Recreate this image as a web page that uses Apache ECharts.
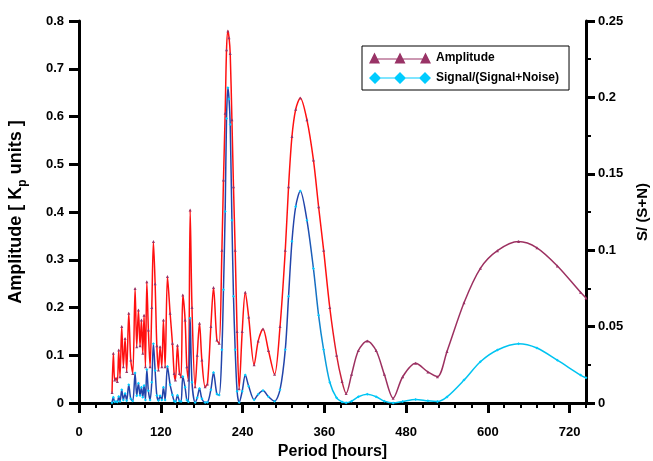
<!DOCTYPE html>
<html><head><meta charset="utf-8">
<script src="https://cdn.jsdelivr.net/npm/echarts@6/dist/echarts.min.js"></script>
<style>html,body{margin:0;padding:0;background:#fff}#c{width:653px;height:461px}</style>
</head><body><div id="c"></div>
<script>
// Period in hours
const periods = [
  48.5, 50.4, 52.4, 54.4, 56.3, 58.3, 60.2, 62.7, 65.1, 67.6,
  70.0, 73.0, 75.9, 78.9, 82.3, 84.7, 87.2, 89.6, 91.6, 93.6,
  95.5, 97.5, 99.5, 101.8, 104.3, 106.8, 109.2, 111.7, 114.2, 116.6,
  119.0, 121.5, 123.9, 126.4, 129.8, 133.7, 137.1, 139.6, 141.5, 144.5,
  147.4, 149.8, 152.3, 155.7, 158.2, 160.6, 163.1, 165.8, 170.4, 173.5,
  176.8, 180.3, 185.1, 188.5, 193.5, 197.4, 202.3, 205.7, 209.7, 212.0,
  214.5, 216.5, 218.5, 220.2, 221.9, 224.4, 226.7, 229.2, 232.0, 235.0,
  239.5, 244.0, 249.0, 257.0, 263.0, 270.0, 278.0, 287.0, 295.0, 302.7,
  307.5, 312.5, 318.0, 324.7, 334.5, 344.0, 351.6, 359.0, 368.0, 378.0,
  386.0, 392.0, 400.0, 410.0, 423.0, 436.0, 448.0, 461.0, 475.0, 494.0,
  512.0, 526.0, 540.0, 565.0, 589.0, 614.0, 645.0, 672.0, 702.0, 736.0,
  744.0
];
// Amplitude [Kp units]
const amplitude = [
  0.022, 0.104, 0.048, 0.052, 0.045, 0.111, 0.055, 0.160, 0.076, 0.135,
  0.066, 0.188, 0.090, 0.062, 0.240, 0.118, 0.195, 0.120, 0.174, 0.104,
  0.184, 0.076, 0.254, 0.153, 0.076, 0.200, 0.338, 0.250, 0.120, 0.069,
  0.118, 0.076, 0.174, 0.076, 0.265, 0.188, 0.125, 0.062, 0.048, 0.121,
  0.062, 0.055, 0.226, 0.174, 0.076, 0.048, 0.404, 0.200, 0.034, 0.100,
  0.167, 0.090, 0.034, 0.040, 0.160, 0.242, 0.132, 0.125, 0.320, 0.467,
  0.607, 0.740, 0.779, 0.765, 0.732, 0.593, 0.453, 0.320, 0.150, 0.030,
  0.150, 0.232, 0.180, 0.080, 0.130, 0.155, 0.110, 0.060, 0.160, 0.320,
  0.453, 0.558, 0.615, 0.639, 0.593, 0.509, 0.411, 0.320, 0.200, 0.100,
  0.045, 0.020, 0.060, 0.110, 0.130, 0.110, 0.060, 0.010, 0.055, 0.083,
  0.065, 0.055, 0.108, 0.210, 0.282, 0.319, 0.338, 0.325, 0.287, 0.232,
  0.220
];
// Signal/(Signal+Noise)
const snr = [
  0.0002, 0.0037, 0.0008, 0.0009, 0.0007, 0.0042, 0.0010, 0.0087, 0.0020, 0.0062,
  0.0015, 0.0120, 0.0028, 0.0013, 0.0196, 0.0047, 0.0129, 0.0049, 0.0103, 0.0037,
  0.0115, 0.0020, 0.0219, 0.0080, 0.0020, 0.0136, 0.0388, 0.0213, 0.0049, 0.0016,
  0.0047, 0.0020, 0.0103, 0.0020, 0.0239, 0.0120, 0.0053, 0.0013, 0.0008, 0.0050,
  0.0013, 0.0010, 0.0174, 0.0103, 0.0020, 0.0008, 0.0555, 0.0136, 0.0004, 0.0034,
  0.0095, 0.0028, 0.0004, 0.0005, 0.0087, 0.0199, 0.0059, 0.0053, 0.0348, 0.0741,
  0.1253, 0.1862, 0.2063, 0.1990, 0.1822, 0.1196, 0.0698, 0.0348, 0.0077, 0.0003,
  0.0077, 0.0183, 0.0110, 0.0022, 0.0057, 0.0082, 0.0041, 0.0012, 0.0087, 0.0348,
  0.0698, 0.1059, 0.1286, 0.1388, 0.1196, 0.0881, 0.0574, 0.0348, 0.0136, 0.0034,
  0.0007, 0.0001, 0.0012, 0.0041, 0.0057, 0.0041, 0.0012, 0.0000, 0.0010, 0.0023,
  0.0014, 0.0010, 0.0040, 0.0150, 0.0270, 0.0347, 0.0388, 0.0360, 0.0280, 0.0183,
  0.0165
];
const seriesNames = ['Amplitude', 'Signal/(Signal+Noise)'];
const xRange = [0, 744];
const leftRange = [0, 0.8];
const rightRange = [0, 0.25];

const FONT = 'Arial, "Liberation Sans", sans-serif';
const chart = echarts.init(document.getElementById('c'), null, {renderer: 'canvas'});

const ampData = periods.map((p, i) => [p, amplitude[i]]);
const snrData = periods.map((p, i) => [p, snr[i]]);

const axisLineStyle = {color: '#000', width: 3};
const tickLabel = {color: '#000', fontWeight: 'bold', fontSize: 13, fontFamily: FONT};

chart.setOption({
  animation: false,
  backgroundColor: '#fff',
  grid: {left: 79, right: 67, top: 21, bottom: 58, containLabel: false, outerBoundsMode: 'none'},
  legend: {
    orient: 'vertical', left: 362, top: 46,
    padding: [6, 10, 6, 7], itemGap: 8, itemWidth: 62, itemHeight: 12,
    borderColor: '#000', borderWidth: 1, backgroundColor: '#fff',
    textStyle: {color: '#000', fontWeight: 'bold', fontSize: 12, fontFamily: FONT},
    data: [
      {name: seriesNames[0], icon: 'path://M0,11.5L5.5,0.5L11,11.5Z M25.5,11.5L31,0.5L36.5,11.5Z M51,11.5L56.5,0.5L62,11.5Z M5,6.4H57V7.6H5Z',
       itemStyle: {color: '#993366', borderWidth: 0}},
      {name: seriesNames[1], icon: 'path://M0,6L6,0L12,6L6,12Z M25,6L31,0L37,6L31,12Z M50,6L56,0L62,6L56,12Z M6,5.4H56V6.6H6Z',
       itemStyle: {color: '#00ccff', borderWidth: 0}}
    ]
  },
  xAxis: [{
    type: 'value', position: 'bottom', min: xRange[0], max: xRange[1], interval: 120,
    name: 'Period [hours]', nameLocation: 'middle', nameGap: 41,
    nameTextStyle: {color: '#000', fontWeight: 'bold', fontSize: 16, fontFamily: FONT},
    axisLine: {show: true, onZero: false, lineStyle: axisLineStyle},
    axisTick: {show: true, inside: false, length: 10, lineStyle: {color: '#000', width: 3}},
    axisLabel: Object.assign({margin: 23, showMaxLabel: false}, tickLabel),
    splitLine: {show: false}
  }, {
    type: 'value', position: 'bottom', min: xRange[0], max: xRange[1], interval: 24,
    axisLine: {show: false, onZero: false},
    axisTick: {show: true, inside: false, length: 5, lineStyle: {color: '#000', width: 2}},
    axisLabel: {show: false}, splitLine: {show: false}
  }],
  yAxis: [{
    type: 'value', position: 'left', min: leftRange[0], max: leftRange[1], interval: 0.1,
    name: '{a|Amplitude [ K}{s|p}{a| units ]}', nameLocation: 'middle', nameGap: 50,
    nameTextStyle: {
      color: '#000', fontFamily: FONT,
      rich: {
        a: {fontSize: 18, fontWeight: 'bold', fontFamily: FONT, color: '#000', verticalAlign: 'bottom', padding: [0, 0, 4, 0]},
        s: {fontSize: 12, fontWeight: 'bold', fontFamily: FONT, color: '#000', verticalAlign: 'bottom'}
      }
    },
    axisLine: {show: true, onZero: false, lineStyle: axisLineStyle},
    axisTick: {show: true, inside: false, length: 10, lineStyle: {color: '#000', width: 3}},
    axisLabel: Object.assign({margin: 15, inside: false, formatter: v => String(+v.toFixed(2))}, tickLabel),
    splitLine: {show: false}
  }, {
    type: 'value', position: 'right', min: rightRange[0], max: rightRange[1], interval: 0.05,
    name: 'S/ (S+N)', nameLocation: 'middle', nameGap: 49,
    nameTextStyle: {color: '#000', fontWeight: 'bold', fontSize: 15, fontFamily: FONT},
    axisLine: {show: true, onZero: false, lineStyle: axisLineStyle},
    axisTick: {show: true, inside: false, length: 9, lineStyle: {color: '#000', width: 3}},
    minorTick: {show: true, splitNumber: 2, length: 5, lineStyle: {color: '#000', width: 2}},
    axisLabel: Object.assign({margin: 12, inside: false, formatter: v => String(+v.toFixed(3))}, tickLabel),
    splitLine: {show: false}, minorSplitLine: {show: false}
  }],
  series: [{
    name: seriesNames[0], type: 'line', xAxisIndex: 0, yAxisIndex: 0, z: 2,
    data: ampData, smooth: 0.3,
    symbol: 'triangle', symbolSize: 3, showSymbol: true, showAllSymbol: true,
    itemStyle: {color: '#993366'},
    lineStyle: {width: 1.5, color: new echarts.graphic.LinearGradient(0, 0, 1, 0, [
      {offset: 0, color: '#ff1010'}, {offset: 0.46, color: '#ff1010'},
      {offset: 0.5, color: '#9c3060'}, {offset: 1, color: '#9c3060'}])},
    emphasis: {disabled: true}
  }, {
    name: seriesNames[1], type: 'line', xAxisIndex: 0, yAxisIndex: 1, z: 3,
    data: snrData, smooth: 0.3,
    symbol: 'diamond', symbolSize: 3, showSymbol: true, showAllSymbol: true,
    itemStyle: {color: '#00ccff'},
    lineStyle: {width: 1.5, color: new echarts.graphic.LinearGradient(0, 0, 1, 0, [
      {offset: 0, color: '#2244aa'}, {offset: 0.41, color: '#2244aa'},
      {offset: 0.47, color: '#00c3f0'}, {offset: 1, color: '#00c3f0'}])},
    emphasis: {disabled: true}
  }]
});
</script>
</body></html>
